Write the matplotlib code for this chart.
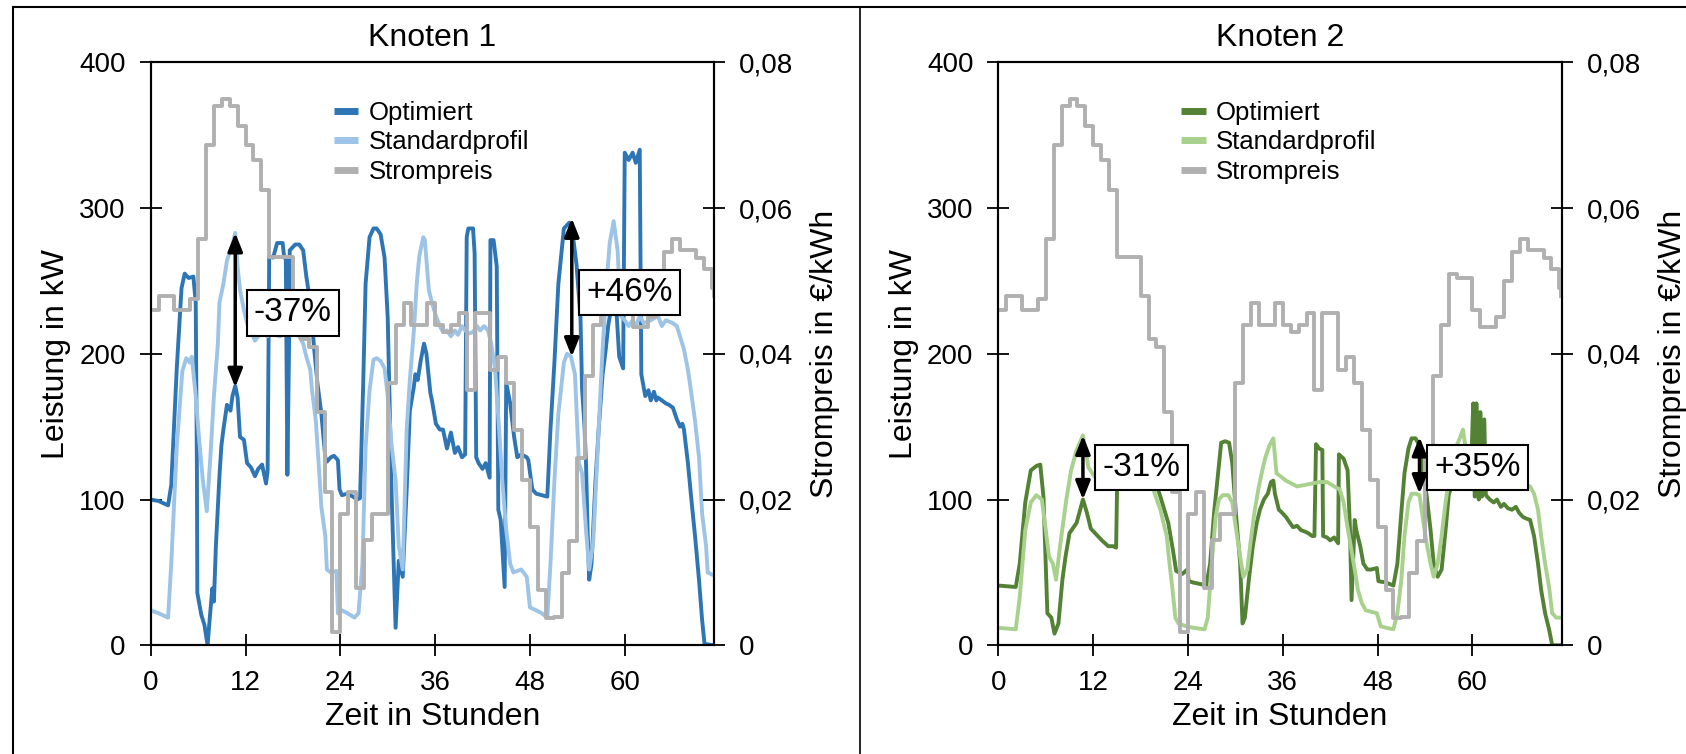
import matplotlib
matplotlib.use("Agg")
import matplotlib.pyplot as plt
from matplotlib.lines import Line2D
from matplotlib.ticker import FuncFormatter
import numpy as np

plt.rcParams['font.family'] = ['Liberation Sans', 'DejaVu Sans']

# ---------------- data ----------------
titles = ["Knoten 1", "Knoten 2"]
series_labels = ["Optimiert", "Standardprofil", "Strompreis"]
x_ticks = [0, 12, 24, 36, 48, 60]
y_ticks = [0, 100, 200, 300, 400]
price_ticks = [0, 0.02, 0.04, 0.06, 0.08]

# electricity price, hourly (EUR/kWh), hours 0..71
price_hours = list(range(72)) + [71.25]
price_values = [0.046, 0.048, 0.048, 0.046, 0.046, 0.0475, 0.0558, 0.0686, 0.074, 0.0749,
                0.074, 0.0712, 0.0686, 0.0666, 0.0625, 0.0533, 0.0533, 0.0533, 0.048, 0.042,
                0.041, 0.032, 0.021, 0.0018, 0.018, 0.021, 0.0078, 0.0144, 0.018, 0.018,
                0.036, 0.044, 0.047, 0.044, 0.044, 0.047, 0.044, 0.043, 0.044, 0.0456,
                0.035, 0.0456, 0.0456, 0.0378, 0.0396, 0.036, 0.0295, 0.0227, 0.0163, 0.0076,
                0.0037, 0.0039, 0.0099, 0.0143, 0.0257, 0.037, 0.044, 0.051, 0.0504, 0.0504,
                0.046, 0.0437, 0.0437, 0.0451, 0.050, 0.054, 0.0558, 0.0542, 0.0542, 0.0531,
                0.0517, 0.049, 0.048]

# Knoten 1 - Optimiert
k1_opt_t = [0, 1, 2.2, 2.6, 3.3, 3.9, 4.3, 4.8, 5.4, 5.7, 5.85, 5.9, 6.4, 6.8, 7.2, 7.45, 7.8, 8.0,
            8.25, 8.7, 8.95, 9.2, 9.65, 10.1, 10.35, 10.7, 11.0, 11.3, 11.8, 12.2, 12.7, 13.2, 13.6,
            14.1, 14.6, 14.8, 15.0, 15.5, 16.0, 16.7, 16.9, 17.1, 17.3, 17.5, 17.6, 18.3, 18.8, 19.3,
            19.7, 20.2, 20.7, 21.1, 21.6, 22.1, 22.3, 22.8, 23.2, 23.7, 23.9, 24.2, 24.9, 25.6, 26.1,
            26.5, 26.9, 27.2, 27.7, 28.2, 28.6, 29.1, 29.6, 30.0, 30.3, 30.5, 31.0, 31.4, 31.9, 32.4,
            32.8, 33.3, 33.5, 33.8, 34.2, 34.6, 34.9, 35.4, 35.6, 36.1, 36.6, 37.0, 37.5, 38.0, 38.5,
            38.9, 39.4, 39.8, 40.0, 40.2, 40.8, 41.0, 41.2, 41.5, 42.0, 42.4, 42.9, 43.0, 43.4, 43.8,
            44.0, 44.3, 44.8, 45.0, 45.5, 46.0, 46.4, 46.9, 47.6, 47.8, 48.3, 48.8, 49.5, 50.2, 50.6,
            51.1, 51.6, 52.3, 53.0, 53.4, 53.9, 54.4, 54.6, 54.9, 55.1, 55.3, 55.5, 55.8, 56.3, 56.7,
            57.2, 57.6, 57.9, 58.4, 58.8, 59.0, 59.3, 59.8, 60.0, 60.5, 61.0, 61.4, 61.9, 62.1, 62.3,
            62.6, 63.0, 63.3, 63.7, 64.0, 64.2, 64.7, 65.2, 65.6, 66.1, 66.6, 67.0, 67.3, 67.5, 68.0,
            68.4, 68.9, 69.4, 69.8, 70.1, 71.25]
k1_opt_v = [100, 99, 96, 110, 190, 245, 255, 252, 253, 235, 120, 36, 21, 14, 0, 17, 39, 30,
            68, 116, 137, 148, 165, 161, 171, 178, 170, 143, 141, 125, 122, 116, 121,
            124, 111, 120, 267, 266, 276, 276, 266, 266, 117, 200, 271, 275, 275, 271,
            253, 235, 203, 180, 159, 129, 126, 129, 130, 127, 107, 103, 104, 102, 100,
            101, 180, 248, 280, 286, 286, 282, 266, 225, 150, 103, 12, 58, 47, 107,
            161, 177, 186, 182, 196, 207, 200, 173, 168, 152, 148, 148, 135, 146, 132,
            136, 129, 131, 280, 286, 286, 269, 129, 125, 121, 125, 115, 278, 278, 260,
            93, 86, 40, 180, 166, 143, 129, 131, 129, 127, 107, 104, 103, 102, 148,
            194, 248, 286, 290, 283, 261, 225, 176, 151, 125, 79, 45, 56, 113, 148,
            186, 203, 219, 235, 244, 225, 198, 190, 338, 333, 338, 331, 340, 186, 180,
            171, 175, 168, 174, 168, 170, 168, 166, 165, 163, 155, 150, 152, 148, 125,
            102, 75, 45, 17, 1, 0]

# Knoten 1 - Standardprofil
k1_std_t = [0, 1, 2.2, 2.6, 3.3, 4.0, 4.5, 4.95, 5.2, 5.7, 6.1, 6.6, 7.1, 7.55, 8.0, 8.5, 8.7, 9.2,
            9.65, 10.1, 10.4, 10.7, 11.0, 11.3, 11.8, 12.2, 12.7, 13.2, 13.6, 14.1, 14.8, 15.3, 15.7,
            16.4, 16.9, 17.6, 18.3, 18.8, 19.3, 19.7, 20.2, 20.4, 20.9, 21.4, 21.6, 22.1, 22.3, 22.8,
            23.5, 23.7, 24.2, 24.9, 25.8, 26.3, 26.8, 27.2, 27.7, 28.2, 28.6, 29.1, 29.6, 30.0, 30.5,
            31.0, 31.4, 31.9, 32.4, 32.8, 33.3, 33.7, 34.0, 34.5, 34.7, 35.2, 35.6, 36.1, 36.6, 37.0,
            37.5, 38.0, 38.5, 38.9, 39.4, 39.8, 40.3, 40.8, 41.3, 41.7, 42.2, 42.7, 43.1, 43.6, 44.1,
            44.5, 45.0, 45.5, 45.9, 46.9, 47.6, 48.0, 48.8, 49.5, 50.2, 50.6, 51.1, 51.6, 52.3, 52.7,
            53.2, 53.7, 54.2, 54.6, 55.1, 55.5, 56.0, 56.5, 57.0, 57.2, 57.7, 58.1, 58.6, 59.1, 59.5,
            60.0, 60.5, 61.0, 61.4, 61.9, 62.4, 63.3, 64.2, 64.7, 65.2, 66.1, 66.6, 67.0, 67.5, 68.0,
            68.4, 68.9, 69.4, 69.8, 70.3, 70.5, 71.25]
k1_std_v = [24, 22, 19, 56, 136, 188, 197, 194, 198, 171, 143, 113, 92, 129, 171, 207, 235, 248,
            264, 271, 276, 283, 260, 244, 230, 221, 215, 209, 212, 214, 212, 214, 213,
            212, 214, 216, 215, 212, 207, 198, 189, 176, 154, 113, 95, 75, 52, 50,
            51, 22, 24, 22, 19, 22, 56, 136, 175, 196, 197, 195, 190, 171, 137,
            113, 68, 52, 148, 182, 215, 250, 267, 280, 278, 244, 235, 226, 219, 215,
            216, 212, 216, 213, 219, 216, 214, 215, 219, 216, 219, 216, 207, 189, 148,
            113, 79, 56, 50, 52, 47, 26, 24, 22, 19, 56, 113, 159, 194, 200,
            198, 186, 125, 118, 79, 52, 70, 125, 182, 203, 248, 276, 291, 271, 226,
            223, 219, 223, 219, 226, 221, 223, 226, 219, 223, 221, 219, 212, 203, 189,
            174, 154, 129, 90, 68, 50, 48]

# Knoten 2 - Optimiert
k2_opt_t = [0, 2.2, 2.7, 3.4, 4.1, 4.8, 5.3, 5.7, 6.2, 6.7, 7.1, 7.6, 8.1, 8.5, 9.0, 9.9,
            10.7, 11.2, 11.7, 12.4, 13.1, 13.9, 14.5, 14.9, 15.05, 16.0, 17.0, 18.0, 19.0, 19.8,
            20.2, 20.5, 21.5, 22.1, 22.5, 23.3, 23.9, 24.1, 24.7, 25.6, 26.3, 26.8, 27.3, 27.8, 28.2,
            28.7, 29.2, 29.6, 30.1, 30.6, 30.9, 31.2, 31.7, 32.2, 32.7, 33.1, 33.6, 34.1, 34.5, 34.8,
            35.0, 35.5, 35.9, 36.4, 36.9, 37.3, 37.8, 38.3, 38.8, 39.2, 39.7, 40.0, 40.2, 40.6, 41.0,
            41.1, 41.6, 42.0, 42.5, 43.0, 43.1, 43.7, 44.2, 44.5, 44.7, 45.1, 45.3, 45.8, 46.2, 46.7,
            47.2, 47.9, 48.1, 49.1, 50.0, 50.5, 51.0, 51.4, 51.9, 52.3, 52.8, 53.3, 53.7, 54.2, 54.7,
            55.1, 55.6, 56.1, 56.6, 57.0, 57.5, 57.9, 58.4, 58.9, 59.4, 59.8, 60.1, 60.3, 60.5, 60.8,
            61.0, 61.2, 61.5, 61.7, 62.2, 62.7, 63.1, 63.6, 64.0, 64.5, 65.0, 65.5, 65.9, 66.4, 66.8,
            67.3, 67.8, 68.3, 68.7, 69.2, 69.7, 70.1, 71.25]
k2_opt_v = [41, 40, 56, 98, 120, 123, 124, 102, 22, 19, 8, 15, 45, 61, 77, 84,
            100, 91, 80, 76, 72, 68, 68, 67, 118, 120, 118, 120, 119, 112,
            107, 102, 84, 65, 51, 49, 52, 44, 43, 42, 41, 56, 91, 118, 139,
            140, 139, 125, 88, 56, 15, 19, 45, 68, 84, 93, 100, 104, 112, 113,
            104, 93, 91, 88, 84, 81, 82, 79, 78, 77, 75, 75, 138, 135, 134,
            75, 74, 72, 74, 70, 131, 128, 120, 80, 31, 86, 79, 68, 56, 52,
            52, 53, 44, 43, 41, 56, 91, 118, 135, 142, 142, 137, 120, 103, 79,
            56, 47, 52, 79, 103, 113, 120, 118, 120, 113, 116, 166, 102, 166, 100,
            160, 102, 155, 103, 100, 98, 100, 95, 97, 94, 93, 95, 91, 88, 87,
            86, 75, 56, 38, 22, 11, 0, 0]

# Knoten 2 - Standardprofil
k2_std_t = [0, 2.2, 2.7, 3.4, 4.1, 4.8, 5.5, 6.0, 6.4, 6.9, 7.3, 7.8, 8.3, 8.6, 9.2, 9.9, 10.7,
            11.4, 12.0, 13.0, 15.0, 17.0, 19.0, 19.6, 20.5, 21.3, 21.7, 22.0, 22.4, 22.8, 23.8, 24.7,
            26.1, 26.5, 27.0, 27.5, 27.9, 28.4, 29.1, 29.6, 30.1, 30.6, 31.0, 31.5, 31.9, 32.4, 32.9,
            33.4, 33.8, 34.3, 34.8, 35.0, 35.2, 35.7, 36.4, 37.1, 37.8, 38.8, 39.7, 40.6, 41.6, 42.5,
            43.2, 43.7, 44.1, 44.6, 45.1, 45.5, 46.0, 46.5, 47.2, 47.9, 48.4, 49.1, 50.0, 50.5, 51.0,
            51.4, 51.9, 52.3, 52.8, 53.3, 53.7, 54.2, 54.7, 55.1, 55.6, 56.1, 56.6, 57.0, 57.5, 58.0,
            58.4, 58.8, 59.1, 59.6, 60.1, 60.8, 61.7, 62.6, 63.6, 64.5, 65.5, 66.4, 67.3, 67.8, 68.3,
            68.7, 69.2, 69.7, 70.1, 70.6, 71.25]
k2_std_v = [12, 11, 33, 79, 98, 103, 100, 79, 61, 56, 45, 68, 88, 100, 120, 134, 144,
            122, 117, 112, 110, 111, 109, 107, 93, 75, 54, 40, 19, 15, 13, 12,
            11, 19, 56, 88, 100, 103, 103, 98, 79, 61, 47, 52, 70, 91, 107,
            120, 129, 137, 142, 130, 118, 116, 113, 111, 109, 110, 111, 112, 112, 109,
            107, 98, 84, 68, 52, 38, 29, 24, 23, 22, 13, 12, 11, 22, 45,
            75, 98, 104, 104, 103, 88, 70, 56, 47, 56, 75, 98, 113, 125, 137,
            142, 148, 137, 118, 110, 109, 111, 111, 112, 111, 110, 111, 109, 104, 93,
            75, 56, 40, 22, 19, 19]

# annotations: (hour, from kW, to kW, label, label hour, label kW)
k1_annotations = [(10.7, 177, 283, "-37%", 18.0, 228), (53.3, 198, 293, "+46%", 60.6, 242)]
k2_annotations = [(10.7, 100, 144, "-31%", 18.1, 122), (53.3, 104, 143, "+35%", 60.6, 122)]

colors = {
    "k1": ("#2E75B6", "#9DC3E6"),
    "k2": ("#548235", "#A9D18E"),
}
price_color = "#B0B0B0"

# ---------------- figure ----------------
W, H = 1686, 754
fig = plt.figure(figsize=(W / 100, H / 100), dpi=100)

TICK_FS = 20
LABEL_FS = 23
LEG_FS = 18.5
ANN_FS = 24
LW = 2.8


def price_fmt(v, pos):
    if abs(v) < 1e-12:
        return "0"
    return f"{v:.2f}".replace(".", ",")


def panel(left_px, title, opt_t, opt_v, std_t, std_v, cols, annotations):
    ax = fig.add_axes([left_px / W, (H - 645.3) / H, 563.3 / W, 583 / H])
    ax2 = ax.twinx()
    l1, = ax.plot(opt_t, opt_v, color=cols[0], lw=LW, solid_joinstyle='round', zorder=2)
    l2, = ax.plot(std_t, std_v, color=cols[1], lw=LW, solid_joinstyle='round', zorder=3)
    l3, = ax2.plot(price_hours, price_values, color=price_color, lw=LW,
                   drawstyle='steps-post', zorder=1)
    ax.set_xlim(0, 71.3)
    ax.set_ylim(0, 400)
    ax2.set_ylim(0, 0.08)
    ax.set_xticks(x_ticks)
    ax.set_yticks(y_ticks)
    ax2.set_yticks(price_ticks)
    ax2.yaxis.set_major_formatter(FuncFormatter(price_fmt))
    for a in (ax, ax2):
        a.tick_params(direction='inout', length=16, width=1.3, labelsize=TICK_FS, pad=10,
                      colors='black')
        for s in a.spines.values():
            s.set_linewidth(1.5)
            s.set_color('black')
    ax.set_title(title, fontsize=LABEL_FS, pad=12)
    ax.set_xlabel("Zeit in Stunden", fontsize=LABEL_FS, labelpad=4)
    ax.set_ylabel("Leistung in kW", fontsize=LABEL_FS, labelpad=6)
    ax2.set_ylabel("Strompreis in €/kWh", fontsize=LABEL_FS, labelpad=12)

    leg = ax2.legend([l1, l2, l3], series_labels, loc='upper left',
                     bbox_to_anchor=(0.325, 0.934), frameon=False, fontsize=LEG_FS,
                     handlelength=0.95, handletextpad=0.4, labelspacing=0.22,
                     borderpad=0, borderaxespad=0)
    for h in leg.get_lines():
        h.set_linewidth(5)
        h.set_solid_capstyle('butt')

    for (hx, y0, y1, txt, tx, ty) in annotations:
        ax2.annotate('', xy=(hx, y1), xytext=(hx, y0), xycoords=ax.transData,
                     textcoords=ax.transData,
                     arrowprops=dict(arrowstyle='<|-|>,head_length=0.55,head_width=0.22',
                                     color='black', lw=2.5, mutation_scale=20,
                                     shrinkA=0, shrinkB=0), zorder=10)
        ax2.text(tx, ty, txt, transform=ax.transData, ha='center', va='center',
                 fontsize=ANN_FS, zorder=11,
                 bbox=dict(boxstyle='square,pad=0.22', fc='white', ec='black', lw=1.5))
    return ax, ax2


panel(150.7, titles[0], k1_opt_t, k1_opt_v, k1_std_t, k1_std_v, colors["k1"], k1_annotations)
panel(998.4, titles[1], k2_opt_t, k2_opt_v, k2_std_t, k2_std_v, colors["k2"], k2_annotations)

# outer frame lines
fig.add_artist(Line2D([12.7 / W, 1.0], [1 - 7.3 / H, 1 - 7.3 / H], color='black', lw=1.5))
fig.add_artist(Line2D([12.7 / W, 12.7 / W], [0, 1 - 7.3 / H], color='black', lw=1.5))
fig.add_artist(Line2D([860 / W, 860 / W], [0, 1 - 7.3 / H], color='black', lw=1.2))

fig.savefig("out.png", dpi=100, facecolor='white')
